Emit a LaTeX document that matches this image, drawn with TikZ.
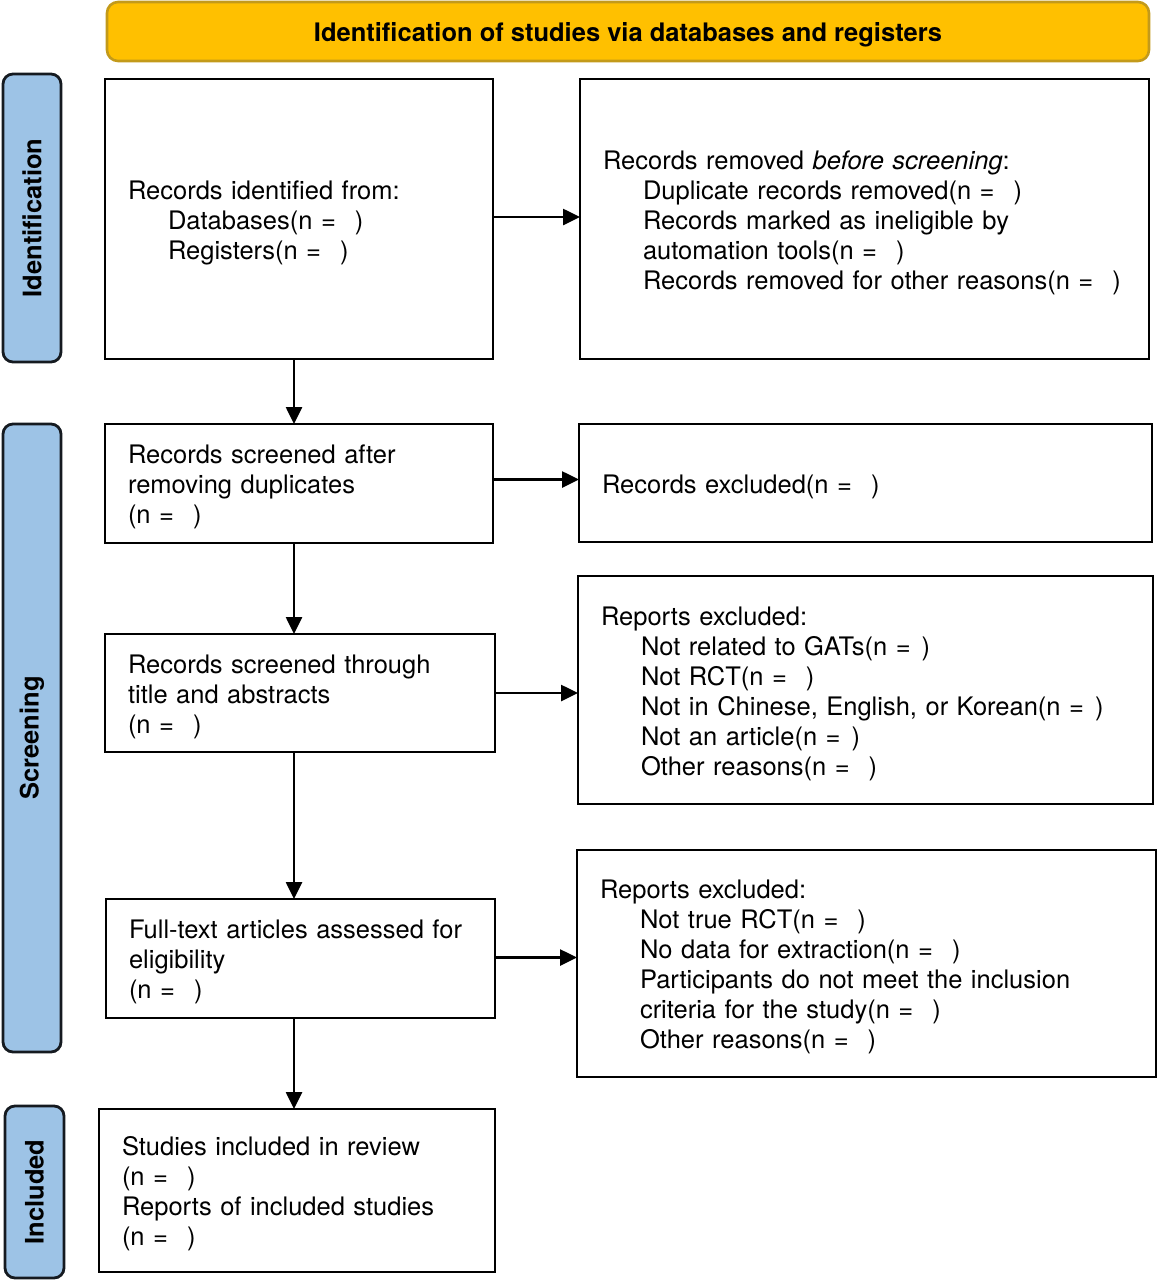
\documentclass[tikz,border=0pt]{standalone}
\usepackage{fontspec}
\setmainfont{TeX Gyre Heros}
\usetikzlibrary{arrows.meta,calc}
\definecolor{hdrfill}{HTML}{FFC000}
\definecolor{hdrline}{HTML}{C39A1A}
\definecolor{sidefill}{HTML}{9DC3E6}
\definecolor{sideline}{HTML}{151A20}
\newcommand\fsz{\fontsize{25.5}{30}\selectfont}
\newcommand\gap{\hspace{19pt}}
\newcommand\sgap{\hspace{11pt}}
\newcommand\ind{\hspace*{40pt}}
\begin{document}
\begin{tikzpicture}[x=1pt,y=-1pt,
  box/.style={draw=black, line width=2.6pt, align=left, inner xsep=23pt, inner ysep=0pt,
    outer sep=0pt, anchor=north west, font=\fsz, text=black,
    execute at begin node={\rule{0pt}{26pt}}},
  sidebar/.style={draw=sideline, fill=sidefill, line width=2.8pt, rounded corners=10pt,
    anchor=north west, inner sep=0pt, outer sep=0pt},
  sidelabel/.style={rotate=90, font=\fsz\bfseries, text=black},
  arr/.style={line width=2.6pt, -{Triangle[length=17pt,width=16pt]}}]
\useasboundingbox (0,0) rectangle (1158,1280);
% header
\node[draw=hdrline, fill=hdrfill, line width=2.6pt, rounded corners=11pt, anchor=north west,
  minimum width=1042pt, minimum height=59pt, inner sep=0pt, outer sep=0pt] (hdr) at (107,2) {};
\node[font=\fontsize{25.5}{30}\selectfont\bfseries, text=black] (hdrt) at ($(hdr.center)+(0,3)$)
  {Identification of studies via databases and registers};
% side bars
\node[sidebar, minimum width=58pt, minimum height=288pt] (sid) at (3,74) {};
\node[sidelabel] (sidl) at (sid.center) {Identification};
\node[sidebar, minimum width=58pt, minimum height=628pt] (ssc) at (3,424) {};
\node[sidelabel] (sscl) at (ssc.center) {Screening};
\node[sidebar, minimum width=59pt, minimum height=172pt] (sin) at (5,1106) {};
\node[sidelabel] (sinl) at (sin.center) {Included};
% left boxes
\node[box, text width=342pt, minimum height=280pt] (b1) at (105,79)
  {Records identified from:\\ \ind Databases(n =\gap)\\ \ind Registers(n =\gap)};
\node[box, text width=342pt, minimum height=119pt] (b2) at (105,424)
  {Records screened after\\ removing duplicates\\ (n =\gap)};
\node[box, text width=344pt, minimum height=118pt] (b3) at (105,634)
  {Records screened through\\ title and abstracts\\ (n =\gap)};
\node[box, text width=343pt, minimum height=119pt] (b4) at (106,899)
  {Full-text articles assessed for\\ eligibility\\ (n =\gap)};
\node[box, text width=350pt, minimum height=163pt] (b5) at (99,1109)
  {Studies included in review\\ (n =\gap)\\ Reports of included studies\\ (n =\gap)};
% right boxes
\node[box, text width=523pt, minimum height=280pt] (r1) at (580,79)
  {Records removed \textit{before screening}:\\
   \ind Duplicate records removed(n =\gap)\\
   \ind Records marked as ineligible by\\
   \ind automation tools(n =\gap)\\
   \ind Records removed for other reasons(n =\gap)};
\node[box, text width=527pt, minimum height=118pt] (r2) at (579,424)
  {Records excluded(n =\gap)};
\node[box, text width=529pt, minimum height=228pt] (r3) at (578,576)
  {Reports excluded:\\
   \ind Not related to GATs(n =\sgap)\\
   \ind Not RCT(n =\gap)\\
   \ind Not in Chinese, English, or Korean(n =\sgap)\\
   \ind Not an article(n =\sgap)\\
   \ind Other reasons(n =\gap)};
\node[box, text width=533pt, minimum height=227pt] (r4) at (577,850)
  {Reports excluded:\\
   \ind Not true RCT(n =\gap)\\
   \ind No data for extraction(n =\gap)\\
   \ind Participants do not meet the inclusion\\
   \ind criteria for the study(n =\gap)\\
   \ind Other reasons(n =\gap)};
% connectors
\coordinate (ax) at (294,0);
\draw[arr] (b1.south -| ax) -- (b2.north -| ax);
\draw[arr] (b2.south -| ax) -- (b3.north -| ax);
\draw[arr] (b3.south -| ax) -- (b4.north -| ax);
\draw[arr] (b4.south -| ax) -- (b5.north -| ax);
\draw[arr] ($(b1.east)+(0,-2)$) -- ($(b1.east -| r1.west)+(0,-2)$);
\draw[arr] ($(b2.east)+(0,-4)$) -- ($(b2.east -| r2.west)+(0,-4)$);
\draw[arr] (b3.east) -- (b3.east -| r3.west);
\draw[arr] ($(b4.east)+(0,-1)$) -- ($(b4.east -| r4.west)+(0,-1)$);
\end{tikzpicture}
\end{document}
